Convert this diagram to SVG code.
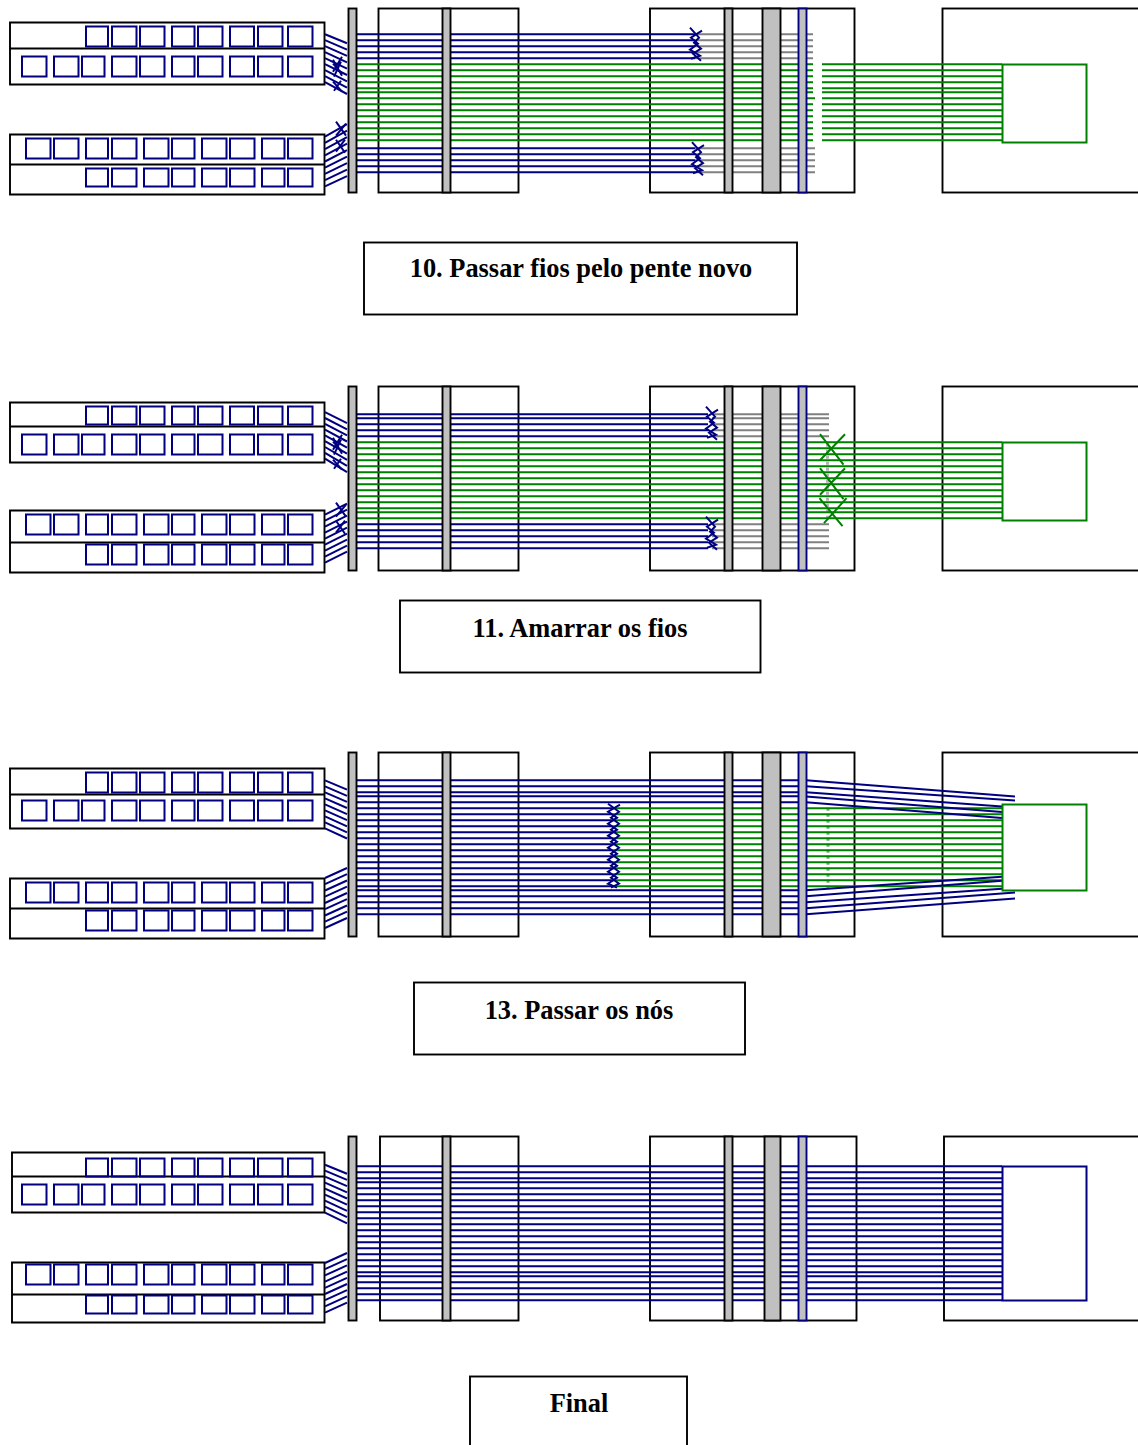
<svg xmlns="http://www.w3.org/2000/svg" width="1138" height="1445" viewBox="0 0 1138 1445">
<style>
.box{fill:none;stroke:#000;stroke-width:1.9}
.bar{fill:#c0c0c0;stroke:#000;stroke-width:1.9}
.bbar{fill:#c0c0c0;stroke:#000080;stroke-width:1.9}
.sq{fill:none;stroke:#000080;stroke-width:2}
.gsq{fill:none;stroke:#008000;stroke-width:2}
.b{fill:none;stroke:#000080;stroke-width:2}
.g{fill:none;stroke:#008000;stroke-width:2}
.y{fill:none;stroke:#808080;stroke-width:2}
.lb{font-family:"Liberation Serif","Times New Roman",serif;font-weight:bold;font-size:26.4px;fill:#000;text-anchor:middle}
</style>
<defs>
<path id="r1" d="M86 0h22v20h-22zM112 0h24.500v20h-24.500zM140 0h24.500v20h-24.500zM172 0h22.500v20h-22.500zM198 0h24.500v20h-24.500zM230 0h24v20h-24zM258 0h24.500v20h-24.500zM288 0h24.500v20h-24.500z"/>
<path id="r1s" d="M86 0h22v18h-22zM112 0h24.500v18h-24.500zM140 0h24.500v18h-24.500zM172 0h22.500v18h-22.500zM198 0h24.500v18h-24.500zM230 0h24v18h-24zM258 0h24.500v18h-24.500zM288 0h24.500v18h-24.500z"/>
<path id="r2" d="M22 0h24.500v20h-24.500zM54 0h24.500v20h-24.500zM82 0h22.500v20h-22.500zM112 0h24.500v20h-24.500zM140 0h24.500v20h-24.500zM172 0h22.500v20h-22.500zM198 0h24.500v20h-24.500zM230 0h24v20h-24zM258 0h24.500v20h-24.500zM288 0h24.500v20h-24.500z"/>
<path id="r3" d="M26 0h24.500v20h-24.500zM54 0h24.500v20h-24.500zM86 0h22v20h-22zM112 0h24.500v20h-24.500zM144 0h24.500v20h-24.500zM172 0h22.500v20h-22.500zM202 0h24.500v20h-24.500zM230 0h24.500v20h-24.500zM262 0h22.500v20h-22.500zM288 0h24.500v20h-24.500z"/>
<path id="r4" d="M86 0h22v18h-22zM112 0h24.500v18h-24.500zM144 0h24.500v18h-24.500zM172 0h22.500v18h-22.500zM202 0h24.500v18h-24.500zM230 0h24.500v18h-24.500zM262 0h22.500v18h-22.500zM288 0h24.500v18h-24.500z"/>
<path id="r4t" d="M86 0h22v20h-22zM112 0h24.500v20h-24.500zM144 0h24.500v20h-24.500zM172 0h22.500v20h-22.500zM202 0h24.500v20h-24.500zM230 0h24.500v20h-24.500zM262 0h22.500v20h-22.500zM288 0h24.500v20h-24.500z"/>
<path id="chain" d="M0 0L9 10L4 15L11 21L3 26L11 33M12 3L1 10L8 16L0 22L10 28L1 31"/>
<path id="xtop" d="M333 60L342 76M342 57L333 72M333 64L342 74M341 62L334 77M333 82L342 92M341 81L334 91"/>
<path id="xlow" d="M336 122L346 136M336 136L346 124M336 140L345 153M336 152L345 140"/>
</defs>
<rect width="1138" height="1445" fill="#fff"/>

<g id="panel-10-frames">
<rect class="box" x="378.500" y="8.500" width="140" height="184"/>
<rect class="box" x="650" y="8.500" width="204.500" height="184"/>
<rect class="box" x="942.500" y="8.500" width="210" height="184"/>
<path class="box" d="M10 22.500H324.500V84.500H10ZM10 48.500H324.500M10 134.500H324.500V194.500H10ZM10 164.500H324.500"/>
<g class="sq"><use href="#r1" y="26.500"/><use href="#r2" y="56.500"/><use href="#r3" y="138.500"/><use href="#r4" y="168.500"/></g>
</g>
<g id="panel-11-frames">
<rect class="box" x="378.500" y="386.500" width="140" height="184"/>
<rect class="box" x="650" y="386.500" width="204.500" height="184"/>
<rect class="box" x="942.500" y="386.500" width="210" height="184"/>
<path class="box" d="M10 402.500H324.500V462.500H10ZM10 426.500H324.500M10 510.500H324.500V572.500H10ZM10 542.500H324.500"/>
<g class="sq"><use href="#r1s" y="406.500"/><use href="#r2" y="434.500"/><use href="#r3" y="514.500"/><use href="#r4t" y="544.500"/></g>
</g>
<g id="panel-13-frames">
<rect class="box" x="378.500" y="752.500" width="140" height="184"/>
<rect class="box" x="650" y="752.500" width="204.500" height="184"/>
<rect class="box" x="942.500" y="752.500" width="210" height="184"/>
<path class="box" d="M10 768.500H324.500V828.500H10ZM10 794.500H324.500M10 878.500H324.500V938.500H10ZM10 908.500H324.500"/>
<g class="sq"><use href="#r1" y="772.500"/><use href="#r2" y="800.500"/><use href="#r3" y="882.500"/><use href="#r4t" y="910.500"/></g>
</g>
<g id="panel-final-frames">
<rect class="box" x="380" y="1136.500" width="138.500" height="184"/>
<rect class="box" x="650" y="1136.500" width="206.500" height="184"/>
<rect class="box" x="944" y="1136.500" width="210" height="184"/>
<path class="box" d="M12 1152.500H324.500V1212.500H12ZM12 1176.500H324.500M12 1262.500H324.500V1322.500H12ZM12 1294.500H324.500"/>
<g class="sq"><use href="#r1s" y="1158.500"/><use href="#r2" y="1184.500"/><use href="#r3" y="1264.500"/><use href="#r4" y="1295.500"/></g>
</g>

<g id="connectors" transform="translate(0 -.3)">
<path class="y" d="M695 34.500H813M695 40.500H813M695 46.500H813M695 52.500H813M695 58.500H813M695 148.500H815M695 154.500H815M695 160.500H815M695 166.500H815M695 172.500H815"/>
<path class="g" d="M356 64.500H813M356 70.500H813M356 76.500H813M356 82.500H813M356 88.500H813M356 92.500H813M356 98.500H815M356 104.500H813M356 110.500H813M356 116.500H813M356 122.500H813M356 128.500H813M356 134.500H813M356 140.500H813"/>
<path class="g" d="M822 64.500H1002M822 70.500H1002M822 76.500H1002M822 82.500H1002M822 88.500H1002M822 92.500H1002M822 98.500H1002M822 104.500H1002M822 110.500H1002M822 116.500H1002M822 122.500H1002M822 128.500H1002M822 134.500H1002M822 140.500H1002"/>
<path class="b" d="M356 34.500H695M356 40.500H695M356 46.500H695M356 52.500H695M356 58.500H695M356 148.500H695M356 154.500H695M356 160.500H695M356 166.500H695M356 172.500H695"/>
<path class="b" d="M325 34.500L347 43.500M325 40.500L347 49.900M325 46.500L347 56.200M325 52.500L347 62.600M325 58.500L347 68.900M325 64.500L347 75.300M325 70.500L347 81.600M325 76.500L347 88M325 82.500L347 94.300"/>
<path class="b" d="M325 137L347 124.500M325 143.200L347 131M325 149.400L347 137.500M325 155.600L347 144M325 161.800L347 150.500M325 168L347 157M325 174.200L347 163.500M325 180.400L347 170M325 186.600L347 176.500"/>
<use class="b" href="#xtop"/><use class="b" href="#xlow"/>
<use class="b" href="#chain" x="690" y="28"/><use class="b" href="#chain" x="692" y="142.500"/>

<path class="y" d="M712 414.500H829M712 418.500H829M712 424.500H829M712 430.500H829M712 436.500H829M712 524.500H829M712 530.500H829M712 536.500H829M712 542.500H829M712 548.500H829"/>
<path class="y" stroke-dasharray="3 3" style="stroke-width:3;opacity:.6" d="M827.500 444V520"/>
<path class="g" d="M356 442.500H1002M356 448.500H1002M356 454.500H1002M356 460.500H1002M356 466.500H1002M356 472.500H1002M356 478.500H1002M356 484.500H1002M356 490.500H1002M356 496.500H1002M356 502.500H1002M356 508.500H1002M356 512.500H1002M356 518.500H1002"/>
<path class="g" d="M820 434.500L843.500 465M845 434.500L820 460.500M820 468.500L843.500 499.500M845 468.500L820 495M819.500 498.500L842.500 526.500M846.500 498.500L824 523.500"/>
<path class="b" d="M356 414.500H708M356 418.500H708M356 424.500H708M356 430.500H708M356 436.500H708M356 524.500H708M356 530.500H708M356 536.500H708M356 542.500H708M356 548.500H708"/>
<path class="b" d="M325 412.500L347 423.500M325 418.300L347 429.600M325 424.100L347 435.700M325 429.900L347 441.800M325 435.700L347 447.900M325 441.500L347 454M325 447.300L347 460.100M325 453.100L347 466.200M325 459L347 472.500"/>
<path class="b" d="M325 515L347 504M325 521L347 510M325 527L347 516M325 533L347 522M325 539L347 528M325 545L347 534M325 551L347 540M325 557L347 546M325 563L347 552"/>
<use class="b" href="#xtop" y="378"/><use class="b" href="#xlow" y="381"/>
<use class="b" href="#chain" x="706" y="407"/><use class="b" href="#chain" x="706" y="517"/>

<path class="g" d="M612 808.500H1002M612 814.500H1002M612 820.500H1002M612 826.500H1002M612 832.500H1002M612 838.500H1002M612 844.500H1002M612 850.500H1002M612 856.500H1002M612 862.500H1002M612 868.500H1002M612 874.500H1002M612 880.500H1002M612 886.500H1002"/>
<path class="g" stroke-dasharray="3 3" style="stroke-width:3;opacity:.6" d="M828 808V888"/>
<path class="b" d="M356 780.500H798M356 786.500H798M356 792.500H798M356 796.500H798M356 802.500H798M356 890.500H798M356 896.500H798M356 902.500H798M356 908.500H798M356 914.500H798"/>
<path class="b" d="M356 808.500H612M356 814.500H612M356 820.500H612M356 826.500H612M356 832.500H612M356 838.500H612M356 844.500H612M356 850.500H612M356 856.500H612M356 862.500H612M356 868.500H612M356 874.500H612M356 880.500H612M356 886.500H612"/>
<path class="b" d="M806 780.500L1015 796.700M806 786.500L1015 800.700M806 792.500L1002 806.700M806 796.700L1002 812.300M806 802.500L1002 818.300"/>
<path class="b" d="M806 890.500L1002 877M806 896.500L1002 881M806 902.500L1002 889M806 908.500L1015 892.700M806 914.500L1015 898.700"/>
<path class="b" d="M325 780.700L347 790M325 786.700L347 796.100M325 792.700L347 802.200M325 798.700L347 808.300M325 804.700L347 814.400M325 810.700L347 820.500M325 816.700L347 826.600M325 822.700L347 832.700M325 828.700L347 838.800"/>
<path class="b" d="M325 878.300L347 868.300M325 884.500L347 874.500M325 890.800L347 880.800M325 897L347 887M325 903.300L347 893.300M325 909.500L347 899.500M325 915.800L347 905.800M325 922L347 912M325 928.300L347 918.300"/>
<path class="b" d="M608 804L619 812L611 818L619 824L611 830L619 836L611 842L619 848L611 854L619 860L611 866L619 872L611 878L619 884L611 888M620 805L608 812L617 818L608 824L617 830L608 836L617 842L608 848L617 854L608 860L617 866L608 872L617 878L608 884L617 888"/>

<path class="b" d="M356 1166.500H1002M356 1172.500H1002M356 1178.500H1002M356 1182.500H1002M356 1188.500H1002M356 1194.500H1002M356 1200.500H1002M356 1206.500H1002M356 1212.500H1002M356 1218.500H1002M356 1224.500H1002M356 1230.500H1002M356 1236.500H1002M356 1242.500H1002M356 1248.500H1002M356 1254.500H1002M356 1260.500H1002M356 1266.500H1002M356 1272.500H1002M356 1276.500H1002M356 1282.500H1002M356 1288.500H1002M356 1294.500H1002M356 1300.500H1002"/>
<path class="b" d="M325 1165L347 1174M325 1171L347 1180.200M325 1177L347 1186.400M325 1183L347 1192.600M325 1189L347 1198.800M325 1195L347 1205M325 1201L347 1211.200M325 1207L347 1217.400M325 1213L347 1223.600"/>
<path class="b" d="M325 1263.300L347 1253.300M325 1269.500L347 1259.500M325 1275.700L347 1265.700M325 1281.900L347 1271.900M325 1288.100L347 1278.100M325 1294.300L347 1284.300M325 1300.500L347 1290.500M325 1306.700L347 1296.700M325 1312.900L347 1302.900"/>
</g>

<g id="panel-10-bars">
<rect class="bar" x="348.500" y="8.500" width="8" height="184"/><rect class="bar" x="442.500" y="8.500" width="8" height="184"/><rect class="bar" x="724.500" y="8.500" width="8" height="184"/><rect class="bar" x="762.500" y="8.500" width="18" height="184"/><rect class="bbar" x="798.500" y="8.500" width="8" height="184"/>
<rect class="gsq" x="1002.500" y="64.500" width="84" height="78"/>
</g>
<g id="panel-11-bars">
<rect class="bar" x="348.500" y="386.500" width="8" height="184"/><rect class="bar" x="442.500" y="386.500" width="8" height="184"/><rect class="bar" x="724.500" y="386.500" width="8" height="184"/><rect class="bar" x="762.500" y="386.500" width="18" height="184"/><rect class="bbar" x="798.500" y="386.500" width="8" height="184"/>
<rect class="gsq" x="1002.500" y="442.500" width="84" height="78"/>
</g>
<g id="panel-13-bars">
<rect class="bar" x="348.500" y="752.500" width="8" height="184"/><rect class="bar" x="442.500" y="752.500" width="8" height="184"/><rect class="bar" x="724.500" y="752.500" width="8" height="184"/><rect class="bar" x="762.500" y="752.500" width="18" height="184"/><rect class="bbar" x="798.500" y="752.500" width="8" height="184"/>
<rect class="gsq" x="1002.500" y="804.500" width="84" height="86"/>
</g>
<g id="panel-final-bars">
<rect class="bar" x="348.500" y="1136.500" width="8" height="184"/><rect class="bar" x="442.500" y="1136.500" width="8" height="184"/><rect class="bar" x="724.500" y="1136.500" width="8" height="184"/><rect class="bar" x="764.500" y="1136.500" width="16" height="184"/><rect class="bbar" x="798.500" y="1136.500" width="8" height="184"/>
<rect class="sq" x="1002.500" y="1166.500" width="84" height="134"/>
</g>

<g id="label-10"><rect class="box" x="364" y="242.500" width="433" height="72"/><text class="lb" x="581" y="277">10. Passar fios pelo pente novo</text></g>
<g id="label-11"><rect class="box" x="400" y="600.500" width="360.500" height="72"/><text class="lb" x="580" y="637">11. Amarrar os fios</text></g>
<g id="label-13"><rect class="box" x="414" y="982.500" width="331" height="72"/><text class="lb" x="579" y="1019">13. Passar os nós</text></g>
<g id="label-final"><rect class="box" x="470" y="1376.500" width="217" height="80"/><text class="lb" x="579" y="1412">Final</text></g>
</svg>
